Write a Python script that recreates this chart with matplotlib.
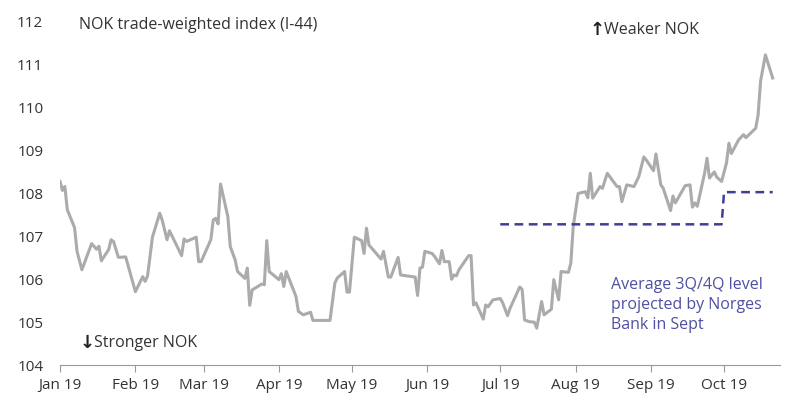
import matplotlib.pyplot as plt
import matplotlib.dates as mdates
import pandas as pd

plt.rcParams['font.family'] = ['Open Sans', 'DejaVu Sans']

# NOK trade-weighted index, 2019
dates = ["01-01", "01-02", "01-03", "01-04", "01-07", "01-08", "01-10", "01-14", "01-16", "01-17",
         "01-18", "01-21", "01-22", "01-23", "01-25", "01-28", "02-01", "02-04", "02-05", "02-06",
         "02-08", "02-11", "02-12", "02-14", "02-15", "02-20", "02-21", "02-22", "02-26", "02-27",
         "02-28", "03-04", "03-05", "03-06", "03-07", "03-08", "03-11", "03-12", "03-14", "03-15",
         "03-18", "03-19", "03-20", "03-21", "03-25", "03-26", "03-27", "03-28", "04-01", "04-02",
         "04-03", "04-04", "04-08", "04-09", "04-11", "04-14", "04-15", "04-22", "04-24", "04-25",
         "04-28", "04-29", "04-30", "05-02", "05-05", "05-06", "05-07", "05-08", "05-13", "05-14",
         "05-16", "05-17", "05-20", "05-21", "05-27", "05-28", "05-29", "05-30", "05-31", "06-03",
         "06-04", "06-06", "06-07", "06-08", "06-10", "06-11", "06-12", "06-13", "06-14", "06-18",
         "06-19", "06-20", "06-21", "06-24", "06-25", "06-26", "06-28", "07-01", "07-02", "07-04",
         "07-05", "07-09", "07-10", "07-11", "07-13", "07-15", "07-16", "07-18", "07-19", "07-22",
         "07-23", "07-25", "07-26", "07-29", "07-30", "07-31", "08-02", "08-05", "08-06", "08-07",
         "08-08", "08-11", "08-12", "08-14", "08-18", "08-19", "08-20", "08-22", "08-25", "08-27",
         "08-29", "08-30", "09-02", "09-03", "09-05", "09-06", "09-09", "09-10", "09-11", "09-15",
         "09-17", "09-18", "09-19", "09-20", "09-23", "09-24", "09-25", "09-27", "09-28", "09-30",
         "10-02", "10-03", "10-04", "10-07", "10-09", "10-10", "10-14", "10-15", "10-16", "10-18",
         "10-21"]
values = [108.28, 108.07, 108.16, 107.62, 107.2, 106.65, 106.22, 106.83, 106.70, 106.77,
          106.43, 106.69, 106.92, 106.88, 106.51, 106.52, 105.71, 106.06, 105.95, 106.08,
          106.98, 107.54, 107.38, 106.92, 107.13, 106.55, 106.94, 106.88, 106.98, 106.41,
          106.41, 106.92, 107.38, 107.42, 107.29, 108.22, 107.46, 106.76, 106.45, 106.18,
          106.02, 106.26, 105.39, 105.75, 105.89, 105.87, 106.90, 106.18, 105.99, 106.13,
          105.83, 106.18, 105.60, 105.25, 105.17, 105.23, 105.04, 105.04, 105.91, 106.03,
          106.18, 105.70, 105.70, 106.98, 106.90, 106.60, 107.19, 106.80, 106.47, 106.65,
          106.05, 106.05, 106.51, 106.10, 106.05, 105.62, 106.26, 106.28, 106.65, 106.60,
          106.53, 106.36, 106.67, 106.41, 106.41, 106.00, 106.10, 106.08, 106.22, 106.55,
          106.55, 105.40, 105.45, 105.07, 105.40, 105.36, 105.52, 105.55, 105.45, 105.15,
          105.32, 105.82, 105.76, 105.05, 105.01, 105.00, 104.86, 105.48, 105.17, 105.30,
          105.99, 105.52, 106.18, 106.16, 106.37, 107.23, 108.00, 108.04, 107.90, 108.47,
          107.89, 108.16, 108.12, 108.47, 108.16, 108.16, 107.81, 108.20, 108.16, 108.40,
          108.85, 108.78, 108.53, 108.92, 108.20, 108.12, 107.60, 107.94, 107.78, 108.18,
          108.20, 107.68, 107.78, 107.70, 108.47, 108.82, 108.36, 108.50, 108.38, 108.28,
          108.71, 109.17, 108.93, 109.25, 109.37, 109.30, 109.52, 109.83, 110.61, 111.23,
          110.69]

# Norges Bank projected quarterly averages
proj_dates = ["07-01", "09-30", "10-01", "10-21"]
proj_values = [107.28, 107.28, 108.03, 108.03]

x = pd.to_datetime(["2019-" + d for d in dates])
px = pd.to_datetime(["2019-" + d for d in proj_dates])

fig = plt.figure(figsize=(8, 4.12), dpi=100)
ax = fig.add_axes([0.075, 0.114, 0.9, 0.833])

ax.plot(x, values, color="#ababab", lw=2.2)
ax.plot(px, proj_values, color="#3f3f98", lw=1.8, ls=(0, (3.5, 2.2)))

ax.set_ylim(104, 112)
ax.set_xlim(pd.Timestamp("2019-01-01"), pd.Timestamp("2019-10-24"))
ax.set_yticks(range(104, 113))
ax.xaxis.set_major_locator(mdates.MonthLocator())
ax.xaxis.set_major_formatter(mdates.DateFormatter("%b %y"))

for s in ["top", "right", "left"]:
    ax.spines[s].set_visible(False)
ax.spines["bottom"].set_color("#999999")
ax.tick_params(axis="y", length=0, labelsize=11, colors="#333333", pad=12)
ax.tick_params(axis="x", length=5, color="#999999", labelsize=11, colors="#333333", pad=4)

ax.text(0.027, 0.99, "NOK trade-weighted index (I-44)", transform=ax.transAxes,
        fontsize=11.5, color="#333333", va="center")
ax.text(0.735, 0.975, "\u2191", transform=ax.transAxes, fontsize=13, fontweight="bold",
        color="#222222", va="center", family=["DejaVu Sans"])
ax.text(0.755, 0.975, "Weaker NOK", transform=ax.transAxes,
        fontsize=11.5, color="#333333", va="center")
ax.text(0.027, 0.065, "\u2193", transform=ax.transAxes, fontsize=13, fontweight="bold",
        color="#222222", va="center", family=["DejaVu Sans"])
ax.text(0.047, 0.065, "Stronger NOK", transform=ax.transAxes,
        fontsize=11.5, color="#333333", va="center")
ax.text(0.765, 0.175, "Average 3Q/4Q level\nprojected by Norges\nBank in Sept",
        transform=ax.transAxes, fontsize=11.5, color="#4f4fa3", va="center", linespacing=1.35)

fig.savefig("out.png")
